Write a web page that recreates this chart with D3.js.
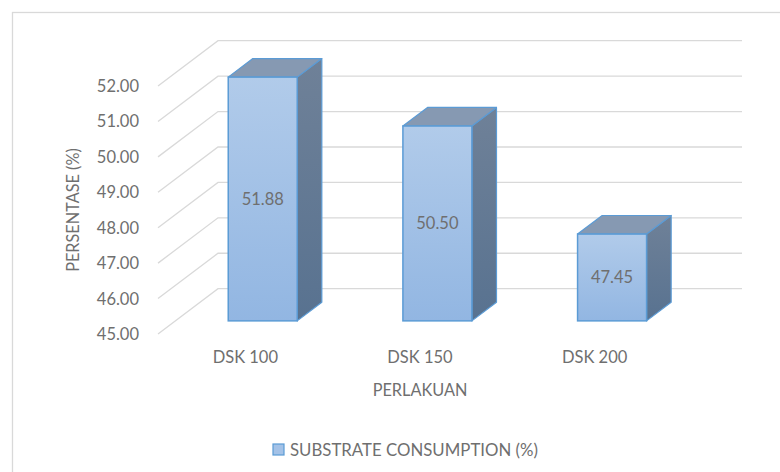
<!DOCTYPE html>
<html>
<head>
<meta charset="utf-8">
<script src="https://cdn.jsdelivr.net/npm/d3@7"></script>
<style>
  body { margin: 0; background: #fff; }
  text { font-family: Lato, "Liberation Sans", sans-serif; fill: #6f6f6f; }
</style>
</head>
<body>
<div id="chart"></div>
<script>
// data
var categories = ["DSK 100", "DSK 150", "DSK 200"];
var values = [51.88, 50.50, 47.45];
var yTicks = [45, 46, 47, 48, 49, 50, 51, 52];
var seriesName = "SUBSTRATE CONSUMPTION (%)";

var W = 780, H = 472;

// 3d projection: depth vector of the floor / side wall
var depthX = 60, depthY = -45.3;
var d0 = 0.29, d1 = 0.70;   // bar front and back depth

var x = d3.scaleBand()
    .domain(categories)
    .range([158, 682])
    .paddingInner(0.605)
    .paddingOuter(0.3025);

var y = d3.scaleLinear()
    .domain([45, 52])
    .range([334, 86]);

var svg = d3.select("#chart").append("svg")
    .attr("width", W)
    .attr("height", H);

// gradients
var defs = svg.append("defs");
var gFront = defs.append("linearGradient").attr("id", "front")
    .attr("x1", 0).attr("y1", 0).attr("x2", 0).attr("y2", 1);
gFront.append("stop").attr("offset", "0%").attr("stop-color", "#b1cbea");
gFront.append("stop").attr("offset", "100%").attr("stop-color", "#92b6e2");
var gSide = defs.append("linearGradient").attr("id", "side")
    .attr("x1", 0).attr("y1", 0).attr("x2", 0).attr("y2", 1);
gSide.append("stop").attr("offset", "0%").attr("stop-color", "#6f8198");
gSide.append("stop").attr("offset", "100%").attr("stop-color", "#587290");

// chart frame
svg.append("rect")
    .attr("x", 12.5).attr("y", 12.5)
    .attr("width", 820).attr("height", 520)
    .attr("fill", "none")
    .attr("stroke", "#d9d9d9")
    .attr("stroke-width", 1.3);

// gridlines: side wall diagonals + back wall
var x0 = x.range()[0], x1 = x.range()[1];
var grid = svg.append("g")
    .attr("stroke", "#d9d9d9")
    .attr("stroke-width", 1.3)
    .attr("fill", "none");
grid.selectAll("path")
    .data(yTicks)
    .enter().append("path")
    .attr("d", function(t) {
        return "M" + x0 + "," + y(t) +
               "L" + (x0 + depthX) + "," + (y(t) + depthY) +
               "L" + (x1 + depthX) + "," + (y(t) + depthY);
    });

// y tick labels
svg.append("g").selectAll("text")
    .data(yTicks)
    .enter().append("text")
    .attr("x", 139)
    .attr("y", function(t) { return y(t); })
    .attr("dy", "0.36em")
    .attr("text-anchor", "end")
    .attr("font-size", 16.5)
    .text(function(t) { return d3.format(".2f")(t); });

// bars
var fdx = depthX * d0, fdy = depthY * d0;
var sdx = depthX * (d1 - d0), sdy = depthY * (d1 - d0);

var bars = svg.append("g").selectAll("g")
    .data(categories)
    .enter().append("g");

function pts(a) { return a.map(function(p) { return p.join(","); }).join(" "); }

bars.append("polygon")
    .attr("fill", "url(#side)")
    .attr("stroke", "#5b9bd5")
    .attr("stroke-width", 1.2)
    .attr("stroke-linejoin", "round")
    .attr("points", function(c, i) {
        var xr = x(c) + x.bandwidth() + fdx;
        var yt = y(values[i]) + fdy, yb = y(45) + fdy;
        return pts([[xr, yt], [xr + sdx, yt + sdy], [xr + sdx, yb + sdy], [xr, yb]]);
    });

bars.append("polygon")
    .attr("fill", "#8699b2")
    .attr("stroke", "#5b9bd5")
    .attr("stroke-width", 1.2)
    .attr("stroke-linejoin", "round")
    .attr("points", function(c, i) {
        var xl = x(c) + fdx, xr = xl + x.bandwidth();
        var yt = y(values[i]) + fdy;
        return pts([[xl, yt], [xl + sdx, yt + sdy], [xr + sdx, yt + sdy], [xr, yt]]);
    });

bars.append("rect")
    .attr("fill", "url(#front)")
    .attr("stroke", "#5b9bd5")
    .attr("stroke-width", 1.5)
    .attr("x", function(c) { return x(c) + fdx; })
    .attr("y", function(c, i) { return y(values[i]) + fdy; })
    .attr("width", x.bandwidth())
    .attr("height", function(c, i) { return y(45) - y(values[i]); });

// value labels
bars.append("text")
    .attr("x", function(c) { return x(c) + fdx + x.bandwidth() / 2; })
    .attr("y", function(c, i) { return (y(values[i]) + y(45)) / 2 + fdy; })
    .attr("dy", "0.36em")
    .attr("text-anchor", "middle")
    .attr("font-size", 16.5)
    .text(function(c, i) { return d3.format(".2f")(values[i]); });

// category labels
svg.append("g").selectAll("text")
    .data(categories)
    .enter().append("text")
    .attr("x", function(c) { return x(c) + x.bandwidth() / 2; })
    .attr("y", 357)
    .attr("dy", "0.36em")
    .attr("text-anchor", "middle")
    .attr("font-size", 16.5)
    .text(function(c) { return c; });

// axis titles
svg.append("text")
    .attr("x", 420).attr("y", 390)
    .attr("dy", "0.36em")
    .attr("text-anchor", "middle")
    .attr("font-size", 16.3)
    .text("PERLAKUAN");

svg.append("text")
    .attr("transform", "translate(73,210) rotate(-90)")
    .attr("dy", "0.36em")
    .attr("text-anchor", "middle")
    .attr("font-size", 16.3)
    .text("PERSENTASE (%)");

// legend
var legend = svg.append("g");
legend.append("rect")
    .attr("x", 273).attr("y", 444)
    .attr("width", 11).attr("height", 11)
    .attr("fill", "#a4c2e7")
    .attr("stroke", "#5b9bd5")
    .attr("stroke-width", 1.2);
legend.append("text")
    .attr("x", 290).attr("y", 449.5)
    .attr("dy", "0.36em")
    .attr("font-size", 16.8)
    .attr("textLength", 248)
    .text(seriesName);
</script>
</body>
</html>
